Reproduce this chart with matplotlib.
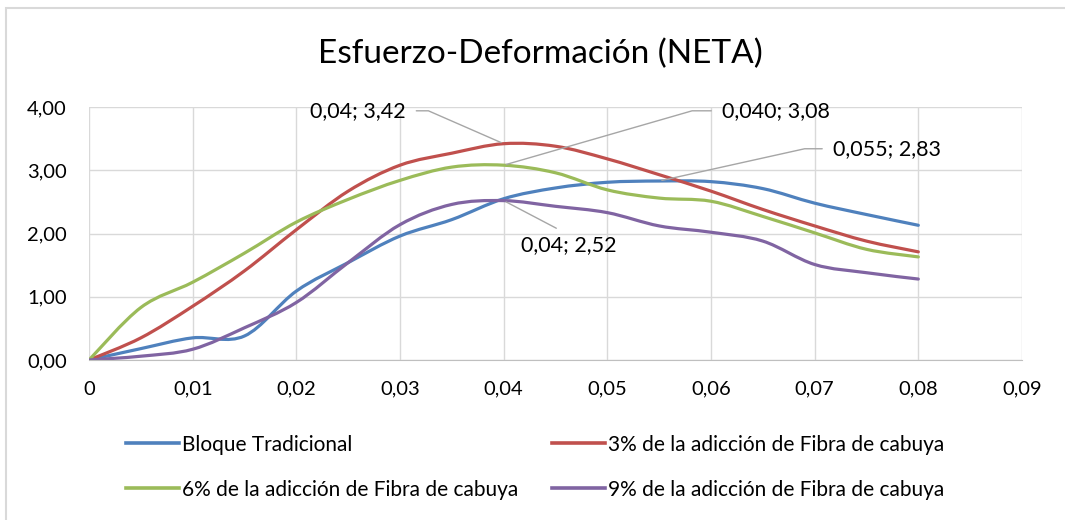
import matplotlib
matplotlib.use('Agg')
import matplotlib.pyplot as plt
from matplotlib.path import Path
from matplotlib.patches import PathPatch, Rectangle
from matplotlib.lines import Line2D
import numpy as np

plt.rcParams['font.family'] = ['Lato', 'DejaVu Sans']

# deformación (x) y esfuerzo (y)
deformacion = [0, 0.005, 0.01, 0.015, 0.02, 0.025, 0.03, 0.035, 0.04,
               0.045, 0.05, 0.055, 0.06, 0.065, 0.07, 0.075, 0.08]
bloque = [0, 0.18, 0.35, 0.38, 1.09, 1.54, 1.96, 2.22, 2.55,
          2.72, 2.81, 2.83, 2.82, 2.71, 2.48, 2.30, 2.13]
fibra3 = [0, 0.35, 0.85, 1.41, 2.06, 2.67, 3.08, 3.27, 3.42,
          3.38, 3.18, 2.93, 2.67, 2.38, 2.12, 1.88, 1.71]
fibra6 = [0, 0.83, 1.23, 1.69, 2.18, 2.54, 2.84, 3.05, 3.08,
          2.96, 2.69, 2.56, 2.51, 2.27, 2.01, 1.75, 1.63]
fibra9 = [0, 0.06, 0.17, 0.51, 0.91, 1.54, 2.14, 2.46, 2.52,
          2.43, 2.33, 2.12, 2.02, 1.88, 1.51, 1.38, 1.28]

nombres = ['Bloque Tradicional',
           '3% de la adicción de Fibra de cabuya',
           '6% de la adicción de Fibra de cabuya',
           '9% de la adicción de Fibra de cabuya']
colores = ['#4F81BD', '#C0504D', '#9BBB59', '#8064A2']

x_ticks = [0, 0.01, 0.02, 0.03, 0.04, 0.05, 0.06, 0.07, 0.08, 0.09]
x_labels = ['0', '0,01', '0,02', '0,03', '0,04', '0,05', '0,06', '0,07', '0,08', '0,09']
y_ticks = [0, 1, 2, 3, 4]
y_labels = ['0,00', '1,00', '2,00', '3,00', '4,00']


def curva_suave(x, y):
    # linea suavizada estilo Excel (bezier)
    p = np.column_stack([x, y])
    n = len(p)
    verts = [p[0]]
    codes = [Path.MOVETO]
    for i in range(n - 1):
        p0 = p[i - 1] if i > 0 else p[i]
        p3 = p[i + 2] if i + 2 < n else p[i + 1]
        c1 = p[i] + (p[i + 1] - p0) / 6
        c2 = p[i + 1] - (p3 - p[i]) / 6
        verts += [c1, c2, p[i + 1]]
        codes += [Path.CURVE4] * 3
    return Path(verts, codes)


fig = plt.figure(figsize=(10.65, 5.2), dpi=100)
# borde del grafico (solo se ven arriba e izquierda)
fig.patches.append(Rectangle((6 / 1065, -0.05), 1.2, 1.05 - 8 / 520 + 0.0, transform=fig.transFigure,
                             fill=False, edgecolor='#d9d9d9', linewidth=1.5))
ax = fig.add_axes([0.0836, 0.3077, 0.8760, 0.4865])

for serie, col in zip([bloque, fibra3, fibra6, fibra9], colores):
    ax.add_patch(PathPatch(curva_suave(deformacion, serie), fill=False,
                           edgecolor=col, linewidth=2.3, capstyle='round'))

ax.set_xlim(0, 0.09)
ax.set_ylim(0, 4)
ax.set_xticks(x_ticks)
ax.set_xticklabels(x_labels)
ax.set_yticks(y_ticks)
ax.set_yticklabels(y_labels)
ax.tick_params(length=0, labelsize=14.5, colors='#000000')
ax.tick_params(axis='x', pad=15)
ax.tick_params(axis='y', pad=16)
ax.grid(True, color='#d9d9d9', linewidth=1)
ax.set_axisbelow(True)
for s in ['top', 'right', 'left']:
    ax.spines[s].set_visible(False)
ax.spines['bottom'].set_color('#bfbfbf')

fig.text(0.507, 0.879, 'Esfuerzo-Deformación (NETA)', ha='center', va='baseline', fontsize=24)

# etiquetas de datos
gris = '#a6a6a6'
ax.annotate('0,04; 3,42', xy=(deformacion[8], fibra3[8]), xytext=(0.0305, 3.94),
            ha='right', va='center', fontsize=15.5,
            arrowprops=dict(arrowstyle='-', color=gris, lw=1, relpos=(1, 0.5), shrinkA=6,
                            connectionstyle='angle,angleA=0,angleB=-23.6,rad=0'))
ax.annotate('0,040; 3,08', xy=(deformacion[8], fibra6[8]), xytext=(0.0611, 3.94),
            ha='left', va='center', fontsize=15.5,
            arrowprops=dict(arrowstyle='-', color=gris, lw=1, relpos=(0, 0.5), shrinkA=6,
                            connectionstyle='angle,angleA=0,angleB=16.1,rad=0'))
ax.annotate('0,055; 2,83', xy=(deformacion[11], bloque[11]), xytext=(0.0718, 3.34),
            ha='left', va='center', fontsize=15.5,
            arrowprops=dict(arrowstyle='-', color=gris, lw=1, relpos=(0, 0.5), shrinkA=6,
                            connectionstyle='angle,angleA=0,angleB=12.5,rad=0'))
ax.annotate('0,04; 2,52', xy=(deformacion[8], fibra9[8]), xytext=(0.0463, 1.82),
            ha='center', va='center', fontsize=15.5,
            arrowprops=dict(arrowstyle='-', color=gris, lw=1, relpos=(0.5, 1), shrinkA=6))

# leyenda (orden por columnas)
handles = [Line2D([], [], color=c, lw=2.6) for c in colores]
orden = [0, 2, 1, 3]
fig.legend([handles[i] for i in orden], [nombres[i] for i in orden],
           ncol=2, loc='upper left', bbox_to_anchor=(126 / 1065, 0.1644), frameon=False,
           fontsize=15, handlelength=2.55, handletextpad=0.15, columnspacing=1.6,
           labelspacing=1.2, borderpad=0, borderaxespad=0)

fig.savefig('out.png', dpi=100)
